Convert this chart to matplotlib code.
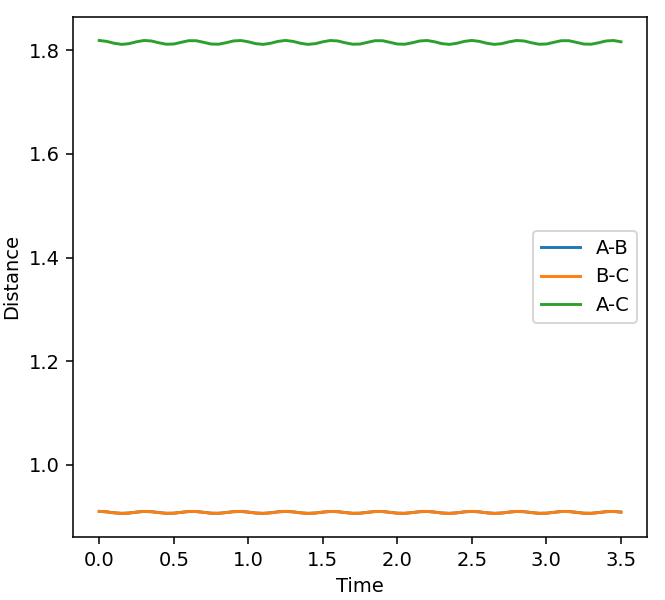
"""Bond distances over time for the A-B-C system."""

import matplotlib
matplotlib.use("Agg")
import matplotlib.pyplot as plt

time = [
    0.00, 0.05, 0.10, 0.15, 0.20, 0.25, 0.30, 0.35, 0.40, 0.45,
    0.50, 0.55, 0.60, 0.65, 0.70, 0.75, 0.80, 0.85, 0.90, 0.95,
    1.00, 1.05, 1.10, 1.15, 1.20, 1.25, 1.30, 1.35, 1.40, 1.45,
    1.50, 1.55, 1.60, 1.65, 1.70, 1.75, 1.80, 1.85, 1.90, 1.95,
    2.00, 2.05, 2.10, 2.15, 2.20, 2.25, 2.30, 2.35, 2.40, 2.45,
    2.50, 2.55, 2.60, 2.65, 2.70, 2.75, 2.80, 2.85, 2.90, 2.95,
    3.00, 3.05, 3.10, 3.15, 3.20, 3.25, 3.30, 3.35, 3.40, 3.45,
    3.50,
]

# A-B and B-C lie on top of each other (symmetric stretch)
dist_ab = [
    0.9097, 0.9088, 0.9069, 0.9059, 0.9065, 0.9083, 0.9096, 0.9091, 0.9074, 0.9060,
    0.9062, 0.9079, 0.9094, 0.9094, 0.9079, 0.9062, 0.9060, 0.9074, 0.9091, 0.9096,
    0.9083, 0.9065, 0.9059, 0.9069, 0.9088, 0.9097, 0.9088, 0.9069, 0.9059, 0.9065,
    0.9083, 0.9096, 0.9091, 0.9074, 0.9060, 0.9062, 0.9079, 0.9094, 0.9094, 0.9079,
    0.9062, 0.9060, 0.9074, 0.9091, 0.9096, 0.9083, 0.9065, 0.9059, 0.9069, 0.9088,
    0.9097, 0.9088, 0.9069, 0.9059, 0.9065, 0.9083, 0.9096, 0.9091, 0.9074, 0.9060,
    0.9062, 0.9079, 0.9094, 0.9094, 0.9079, 0.9062, 0.9060, 0.9074, 0.9091, 0.9096,
    0.9083,
]
dist_bc = [
    0.9097, 0.9088, 0.9069, 0.9059, 0.9065, 0.9083, 0.9096, 0.9091, 0.9074, 0.9060,
    0.9062, 0.9079, 0.9094, 0.9094, 0.9079, 0.9062, 0.9060, 0.9074, 0.9091, 0.9096,
    0.9083, 0.9065, 0.9059, 0.9069, 0.9088, 0.9097, 0.9088, 0.9069, 0.9059, 0.9065,
    0.9083, 0.9096, 0.9091, 0.9074, 0.9060, 0.9062, 0.9079, 0.9094, 0.9094, 0.9079,
    0.9062, 0.9060, 0.9074, 0.9091, 0.9096, 0.9083, 0.9065, 0.9059, 0.9069, 0.9088,
    0.9097, 0.9088, 0.9069, 0.9059, 0.9065, 0.9083, 0.9096, 0.9091, 0.9074, 0.9060,
    0.9062, 0.9079, 0.9094, 0.9094, 0.9079, 0.9062, 0.9060, 0.9074, 0.9091, 0.9096,
    0.9083,
]
dist_ac = [
    1.8193, 1.8175, 1.8139, 1.8117, 1.8131, 1.8167, 1.8192, 1.8183, 1.8148, 1.8120,
    1.8124, 1.8157, 1.8188, 1.8188, 1.8157, 1.8124, 1.8120, 1.8148, 1.8183, 1.8192,
    1.8167, 1.8131, 1.8117, 1.8139, 1.8175, 1.8193, 1.8175, 1.8139, 1.8117, 1.8131,
    1.8167, 1.8192, 1.8183, 1.8148, 1.8120, 1.8124, 1.8157, 1.8188, 1.8188, 1.8157,
    1.8124, 1.8120, 1.8148, 1.8183, 1.8192, 1.8167, 1.8131, 1.8117, 1.8139, 1.8175,
    1.8193, 1.8175, 1.8139, 1.8117, 1.8131, 1.8167, 1.8192, 1.8183, 1.8148, 1.8120,
    1.8124, 1.8157, 1.8188, 1.8188, 1.8157, 1.8124, 1.8120, 1.8148, 1.8183, 1.8192,
    1.8167,
]

DPI = 140


def main() -> None:
    fig = plt.figure(figsize=(665 / DPI, 600 / DPI), dpi=DPI)
    ax = fig.add_axes([0.110, 0.105, 0.863, 0.867])

    ax.plot(time, dist_ab, label="A-B")
    ax.plot(time, dist_bc, label="B-C")
    ax.plot(time, dist_ac, label="A-C")

    ax.set_xlabel("Time")
    ax.set_ylabel("Distance")
    ax.legend(loc="center right")

    fig.savefig("out.png", dpi=DPI, facecolor="white")
    plt.close(fig)


if __name__ == "__main__":
    main()
